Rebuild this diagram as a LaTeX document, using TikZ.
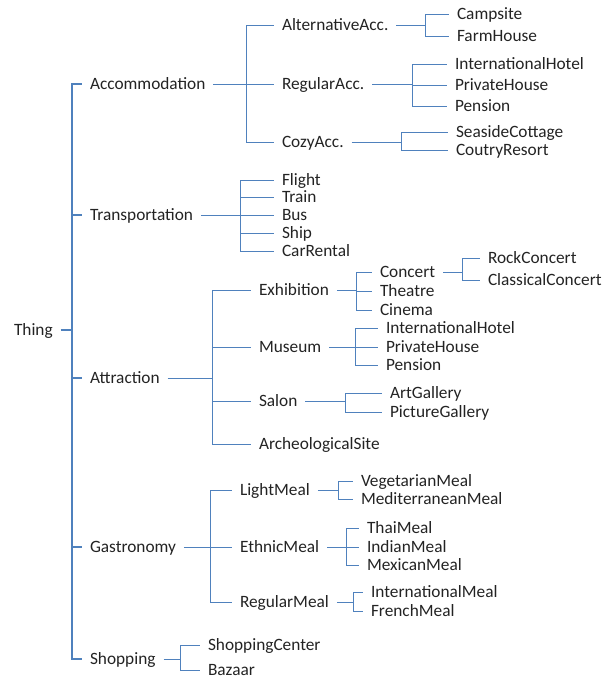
\documentclass[tikz,border=0pt]{standalone}
\usepackage{fontspec}
\setmainfont{Carlito}
\usepackage{tikz}
\usetikzlibrary{calc}
\definecolor{linkblue}{RGB}{79,129,189}
\definecolor{txt}{RGB}{35,35,35}
\tikzset{
	item/.style={anchor=west, inner sep=0pt, outer xsep=8pt, text height=12pt, text depth=1.5pt, text=txt, font=\fontsize{17.3}{20}\selectfont},
	link/.style={draw=linkblue, line width=0.9pt}
}

\begin{document}
\begin{tikzpicture}[x=1pt, y=-1pt]
	\useasboundingbox (0,0) rectangle (610,679);
	% level 0 and 1
	\node[item] at (6,330) (Thing) {Thing};
	\node[item] at (82,84) (Acc) {Accommodation};
	\node[item] at (82,215) (Trans) {Transportation};
	\node[item] at (82,378) (Attr) {Attraction};
	\node[item] at (82,547) (Gas) {Gastronomy};
	\node[item] at (82,659) (Shop) {Shopping};
	\coordinate (jThing) at (72,330);
	\draw[link, line width=1.1pt] (Thing.east) -- (jThing);
	\foreach \c in {Acc,Trans,Attr,Gas,Shop} \draw[link, line width=1.1pt] (jThing) |- (\c.west);
	
	% accommodation
	\node[item] at (274,25) (AltAcc) {AlternativeAcc.};
	\node[item] at (274,84) (RegAcc) {RegularAcc.};
	\node[item] at (274,142) (CozyAcc) {CozyAcc.};
	\coordinate (jAcc) at (246,84);
	\draw[link] (Acc.east) -- (jAcc);
	\foreach \c in {AltAcc,RegAcc,CozyAcc} \draw[link] (jAcc) |- (\c.west);
	
	\node[item] at (449,14) (Camp) {Campsite};
	\node[item] at (449,36) (Farm) {FarmHouse};
	\coordinate (jAlt) at (425,25);
	\draw[link] (AltAcc.east) -- (jAlt);
	\foreach \c in {Camp,Farm} \draw[link] (jAlt) |- (\c.west);
	
	\node[item] at (447,64) (IntHotel) {InternationalHotel};
	\node[item] at (447,85) (PrivHouse) {PrivateHouse};
	\node[item] at (447,106) (Pension) {Pension};
	\coordinate (jReg) at (412,84);
	\draw[link] (RegAcc.east) -- (jReg);
	\foreach \c in {IntHotel,PrivHouse,Pension} \draw[link] (jReg) |- (\c.west);
	
	\node[item] at (448,132) (Seaside) {SeasideCottage};
	\node[item] at (448,150) (Coutry) {CoutryResort};
	\coordinate (jCozy) at (401,142);
	\draw[link] (CozyAcc.east) -- (jCozy);
	\foreach \c in {Seaside,Coutry} \draw[link] (jCozy) |- (\c.west);
	
	% transportation
	\node[item] at (274,180) (Flight) {Flight};
	\node[item] at (274,197) (Train) {Train};
	\node[item] at (274,215) (Bus) {Bus};
	\node[item] at (274,233) (Ship) {Ship};
	\node[item] at (274,251) (Car) {CarRental};
	\coordinate (jTrans) at (240,215);
	\draw[link] (Trans.east) -- (jTrans);
	\foreach \c in {Flight,Train,Bus,Ship,Car} \draw[link] (jTrans) |- (\c.west);
	
	% attraction
	\node[item] at (251,290) (Exh) {Exhibition};
	\node[item] at (251,347) (Mus) {Museum};
	\node[item] at (251,401) (Salon) {Salon};
	\node[item] at (251,444) (Arch) {ArcheologicalSite};
	\coordinate (jAttr) at (212,378);
	\draw[link] (Attr.east) -- (jAttr);
	\foreach \c in {Exh,Mus,Salon,Arch} \draw[link] (jAttr) |- (\c.west);
	
	\node[item] at (372,272) (Concert) {Concert};
	\node[item] at (372,291) (Theatre) {Theatre};
	\node[item] at (372,310) (Cinema) {Cinema};
	\coordinate (jExh) at (356,290);
	\draw[link] (Exh.east) -- (jExh);
	\foreach \c in {Concert,Theatre,Cinema} \draw[link] (jExh) |- (\c.west);
	
	\node[item] at (480,258) (Rock) {RockConcert};
	\node[item] at (480,280) (Classic) {ClassicalConcert};
	\coordinate (jCon) at (462,272);
	\draw[link] (Concert.east) -- (jCon);
	\foreach \c in {Rock,Classic} \draw[link] (jCon) |- (\c.west);
	
	\node[item] at (378,328) (IntHotelB) {InternationalHotel};
	\node[item] at (378,347) (PrivHouseB) {PrivateHouse};
	\node[item] at (378,365) (PensionB) {Pension};
	\coordinate (jMus) at (355,347);
	\draw[link] (Mus.east) -- (jMus);
	\foreach \c in {IntHotelB,PrivHouseB,PensionB} \draw[link] (jMus) |- (\c.west);
	
	\node[item] at (382,393) (Art) {ArtGallery};
	\node[item] at (382,412) (Picture) {PictureGallery};
	\coordinate (jSalon) at (345,401);
	\draw[link] (Salon.east) -- (jSalon);
	\foreach \c in {Art,Picture} \draw[link] (jSalon) |- (\c.west);
	
	% gastronomy
	\node[item] at (232,490) (Light) {LightMeal};
	\node[item] at (232,547) (Ethnic) {EthnicMeal};
	\node[item] at (232,602) (RegMeal) {RegularMeal};
	\coordinate (jGas) at (210,547);
	\draw[link] (Gas.east) -- (jGas);
	\foreach \c in {Light,Ethnic,RegMeal} \draw[link] (jGas) |- (\c.west);
	
	\node[item] at (353,481) (Veg) {VegetarianMeal};
	\node[item] at (353,499) (Medit) {MediterraneanMeal};
	\coordinate (jLight) at (338,490);
	\draw[link] (Light.east) -- (jLight);
	\foreach \c in {Veg,Medit} \draw[link] (jLight) |- (\c.west);
	
	\node[item] at (359,528) (Thai) {ThaiMeal};
	\node[item] at (359,547) (Indian) {IndianMeal};
	\node[item] at (359,565) (Mexican) {MexicanMeal};
	\coordinate (jEthnic) at (346,547);
	\draw[link] (Ethnic.east) -- (jEthnic);
	\foreach \c in {Thai,Indian,Mexican} \draw[link] (jEthnic) |- (\c.west);
	
	\node[item] at (363,592) (IntMeal) {InternationalMeal};
	\node[item] at (363,611) (French) {FrenchMeal};
	\coordinate (jRegMeal) at (353,602);
	\draw[link] (RegMeal.east) -- (jRegMeal);
	\foreach \c in {IntMeal,French} \draw[link] (jRegMeal) |- (\c.west);
	
	% shopping
	\node[item] at (200,645) (Center) {ShoppingCenter};
	\node[item] at (200,670) (Bazaar) {Bazaar};
	\coordinate (jShop) at (180,659);
	\draw[link] (Shop.east) -- (jShop);
	\foreach \c in {Center,Bazaar} \draw[link] (jShop) |- (\c.west);
\end{tikzpicture}
\end{document}
